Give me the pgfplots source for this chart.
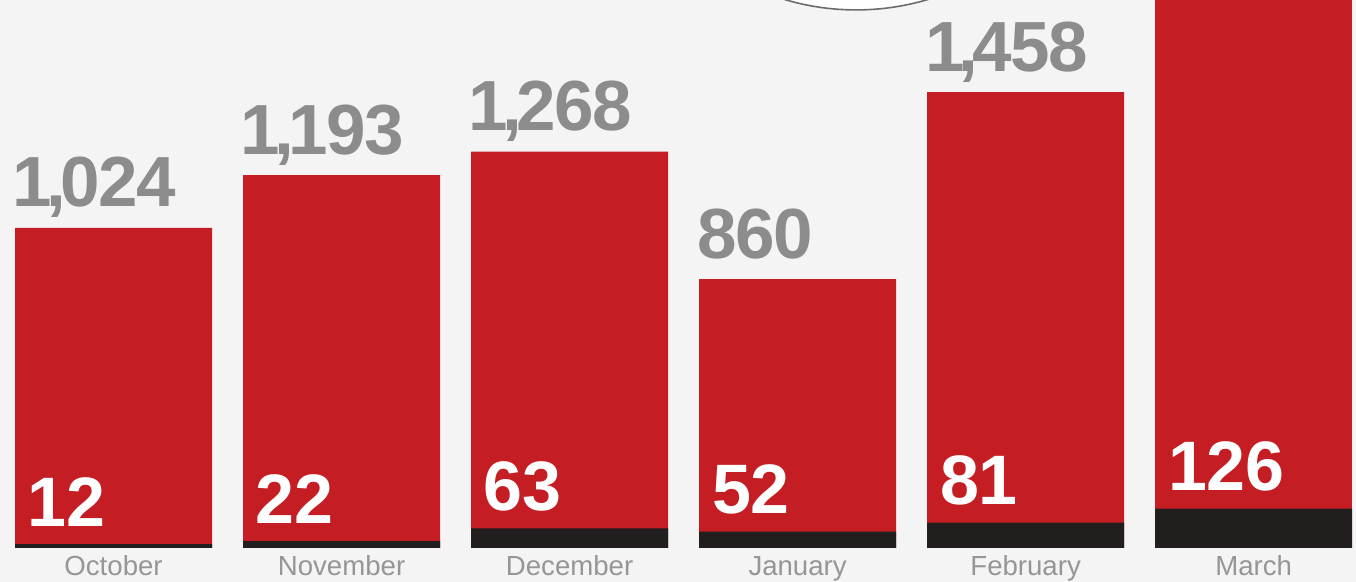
\documentclass[border=0pt]{standalone}
\usepackage{pgfplots}
\pgfplotsset{compat=1.18}
\usepackage{fontspec}
\setmainfont{Liberation Sans}
\newfontfamily\numfont[LetterSpace=-2]{Liberation Sans}
\definecolor{bg}{RGB}{244,244,244}
\definecolor{barred}{RGB}{196,30,36}
\definecolor{barblack}{RGB}{34,30,30}
\definecolor{numgray}{RGB}{140,140,140}
\definecolor{monthgray}{RGB}{150,150,150}
\newcommand{\thou}{\kern-0.08em,\kern-0.08em}
\begin{document}
\begin{tikzpicture}
\begin{axis}[
    scale only axis,
    width=678pt, height=291pt,
    xmin=-0.498, xmax=5.449,
    ymin=-108.8, ymax=1753,
    axis background/.style={fill=bg},
    axis line style={draw=none},
    major tick length=0pt,
    ytick=\empty,
    xtick={0,...,5},
    xticklabels={October,November,December,January,February,March},
    xticklabel style={anchor=base, yshift=3pt, inner sep=0pt,
        font=\fontsize{13.8}{14}\selectfont, text=monthgray},
    ybar, bar width=0.864,
    clip=true,
]
% totals (red)
\addplot[draw=none, fill=barred, bar shift=0pt,
    point meta=explicit symbolic,
    nodes near coords,
    every node near coord/.style={anchor=base west, inner sep=0pt,
        xshift=-50.5pt, yshift=10.5pt, text=numgray,
        font=\fontsize{35.5}{36}\numfont\bfseries}]
    coordinates {
    (0,1024) [1\thou 024]
    (1,1193) [1\thou 193]
    (2,1268) [1\thou 268]
    (3,860)  [860]
    (4,1458) [1\thou 458]
    };
\addplot[draw=none, fill=barred, bar shift=0pt] coordinates {(5,1800)};
% black part
\addplot[draw=none, fill=barblack, bar shift=0pt,
    nodes near coords,
    /pgf/number format/assume math mode=true,
    every node near coord/.style={anchor=base west, inner sep=0pt,
        xshift=-43pt, yshift=9pt, text=white,
        font=\fontsize{35}{36}\selectfont\bfseries}]
    coordinates {(0,12) (1,22) (2,63) (3,52) (4,81) (5,126)};
% callout circle at the top
\fill[black, opacity=0.10] (axis cs:3.257,2521) ++(0,-1.5pt) circle[radius=126.5pt];
\draw[fill=white, draw=gray!85!black, line width=0.8pt] (axis cs:3.257,2521) circle[radius=125pt];
\end{axis}
\pgfresetboundingbox
\useasboundingbox (current axis.south west) rectangle (current axis.north east);
\end{tikzpicture}
\end{document}
